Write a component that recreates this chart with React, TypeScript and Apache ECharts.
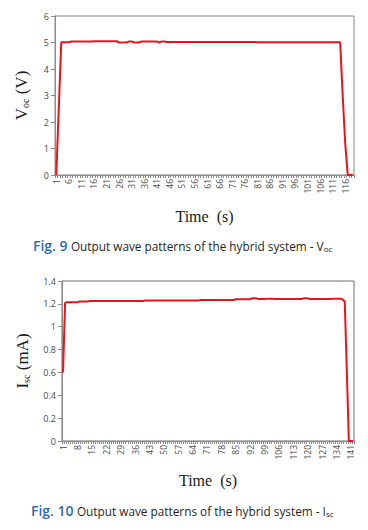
import React, { useEffect, useRef } from "react";
import * as echarts from "echarts";

// Fig. 9 – Voc (V), 119 one-second samples
const vocValues = [
  0, 2.5, 5.01, 5.01, 5.01, 5.01, 5.04, 5.04, 5.04, 5.04,
  5.04, 5.04, 5.04, 5.04, 5.04, 5.05, 5.05, 5.05, 5.05, 5.05,
  5.05, 5.05, 5.05, 5.05, 5.05, 5.0, 5.0, 5.0, 5.0, 5.04,
  5.04, 5.0, 5.0, 5.0, 5.04, 5.04, 5.04, 5.04, 5.04, 5.04,
  5.04, 5.0, 5.04, 5.04, 5.02, 5.02, 5.02, 5.02, 5.02, 5.02,
  5.02, 5.02, 5.02, 5.02, 5.02, 5.02, 5.02, 5.02, 5.02, 5.02,
  5.02, 5.02, 5.02, 5.02, 5.02, 5.02, 5.02, 5.02, 5.02, 5.02,
  5.02, 5.02, 5.02, 5.02, 5.02, 5.02, 5.02, 5.02, 5.02, 5.02,
  5.01, 5.01, 5.01, 5.01, 5.01, 5.01, 5.01, 5.01, 5.01, 5.01,
  5.01, 5.01, 5.01, 5.01, 5.01, 5.01, 5.01, 5.01, 5.01, 5.01,
  5.01, 5.01, 5.01, 5.01, 5.01, 5.01, 5.01, 5.01, 5.01, 5.01,
  5.01, 5.01, 5.01, 5.01, 3.0, 1.2, 0, 0, 0,
];

// Fig. 10 – Isc (mA), 142 one-second samples
const iscValues = [
  0.6, 1.21, 1.215, 1.215, 1.215, 1.215, 1.215, 1.215, 1.22, 1.22,
  1.22, 1.22, 1.22, 1.225, 1.225, 1.225, 1.225, 1.225, 1.225, 1.225,
  1.225, 1.225, 1.225, 1.225, 1.225, 1.225, 1.225, 1.225, 1.225, 1.225,
  1.225, 1.225, 1.225, 1.225, 1.225, 1.225, 1.225, 1.225, 1.225, 1.225,
  1.23, 1.23, 1.23, 1.23, 1.23, 1.23, 1.23, 1.23, 1.23, 1.23,
  1.23, 1.23, 1.23, 1.23, 1.23, 1.23, 1.23, 1.23, 1.23, 1.23,
  1.23, 1.23, 1.23, 1.23, 1.23, 1.23, 1.23, 1.234, 1.234, 1.234,
  1.234, 1.234, 1.234, 1.234, 1.234, 1.234, 1.234, 1.234, 1.234, 1.234,
  1.234, 1.234, 1.234, 1.234, 1.24, 1.24, 1.24, 1.24, 1.24, 1.24,
  1.24, 1.24, 1.248, 1.248, 1.248, 1.242, 1.242, 1.242, 1.242, 1.245,
  1.245, 1.245, 1.245, 1.242, 1.242, 1.242, 1.242, 1.242, 1.242, 1.242,
  1.242, 1.242, 1.242, 1.242, 1.242, 1.242, 1.242, 1.248, 1.248, 1.248,
  1.242, 1.242, 1.242, 1.242, 1.242, 1.242, 1.242, 1.242, 1.242, 1.242,
  1.242, 1.245, 1.245, 1.245, 1.245, 1.245, 1.238, 1.22, 0.62, 0,
  0, 0,
];

const vocTime = vocValues.map((_, i) => String(i + 1));
const iscTime = iscValues.map((_, i) => String(i + 1));

const vocTicks = { min: 0, max: 6, interval: 1 };
const iscTicks = { min: 0, max: 1.4, interval: 0.2 };

const captionVoc = { fig: "Fig. 9", text: "Output wave patterns of the hybrid system - V", sub: "oc" };
const captionIsc = { fig: "Fig. 10", text: "Output wave patterns of the hybrid system - I", sub: "sc" };

const RED = "#E8141B";
const AXIS_GRAY = "#8c8c8c";
const LABEL_GRAY = "#4a4a4a";
const SERIF = "'Liberation Serif', 'DejaVu Serif', serif";
const SANS = "'Open Sans', 'Noto Sans', sans-serif";

function xAxisFor(gridIndex: number, data: string[], labelInterval: number, nameGap: number) {
  return {
    type: "category",
    gridIndex,
    data,
    boundaryGap: true,
    name: "Time  (s)",
    nameLocation: "middle",
    nameGap,
    nameTextStyle: { fontFamily: SERIF, fontSize: 16, color: "#1a1a1a" },
    axisLine: { show: true, lineStyle: { color: AXIS_GRAY, width: 1 } },
    axisTick: { show: true, interval: 0, length: 3, lineStyle: { color: AXIS_GRAY } },
    axisLabel: {
      interval: labelInterval,
      rotate: 90,
      fontSize: 8.5,
      color: LABEL_GRAY,
      fontFamily: SANS,
      margin: 4,
    },
    splitLine: { show: false },
  };
}

function yAxisFor(gridIndex: number, ticks: any, main: string, sub: string, unit: string, nameGap: number) {
  return {
    type: "value",
    gridIndex,
    min: ticks.min,
    max: ticks.max,
    interval: ticks.interval,
    name: `{m|${main}}{s|${sub}}{m| ${unit}}`,
    nameLocation: "middle",
    nameRotate: 90,
    nameGap,
    nameTextStyle: {
      rich: {
        m: { fontFamily: SERIF, fontSize: 17, color: "#1a1a1a", lineHeight: 19, verticalAlign: "bottom" },
        s: { fontFamily: SERIF, fontSize: 10, color: "#1a1a1a", lineHeight: 10, verticalAlign: "bottom" },
      },
    },
    axisLine: { show: true, lineStyle: { color: AXIS_GRAY, width: 1 } },
    axisTick: { show: true, length: 4, lineStyle: { color: AXIS_GRAY } },
    axisLabel: { fontSize: 9, color: LABEL_GRAY, fontFamily: SANS, margin: 6 },
    splitLine: { show: false },
  };
}

function caption(c: any, left: number, top: number) {
  return {
    type: "text",
    left,
    top,
    style: {
      text: `{f|${c.fig}} {t|${c.text}}{s|${c.sub}}`,
      rich: {
        f: { fontFamily: SANS, fontSize: 14, fontWeight: 600, fill: "#2E6DB4", lineHeight: 18, verticalAlign: "bottom" },
        t: { fontFamily: SANS, fontSize: 11.8, fill: "#1f1f1f", lineHeight: 16, verticalAlign: "bottom" },
        s: { fontFamily: SANS, fontSize: 8, fill: "#1f1f1f", lineHeight: 9, verticalAlign: "bottom" },
      },
    },
  };
}

export default function App() {
  const ref = useRef<HTMLDivElement>(null);
  useEffect(() => {
    if (!ref.current) return;
    const chart = echarts.init(ref.current, undefined, { renderer: "svg" });
    chart.setOption({
      animation: false,
      backgroundColor: "#ffffff",
      grid: [
        { left: 55, top: 16, width: 299, height: 159, show: true, borderColor: AXIS_GRAY, borderWidth: 1 },
        { left: 62, top: 281, width: 292, height: 160, show: true, borderColor: "#6e6e6e", borderWidth: 1 },
      ],
      xAxis: [xAxisFor(0, vocTime, 4, 33), xAxisFor(1, iscTime, 6, 31)],
      yAxis: [
        yAxisFor(0, vocTicks, "V", "oc", "(V)", 25),
        yAxisFor(1, iscTicks, "I", "sc", "(mA)", 31),
      ],
      series: [
        {
          type: "line",
          xAxisIndex: 0,
          yAxisIndex: 0,
          data: vocValues,
          showSymbol: false,
          symbol: "none",
          lineStyle: { color: RED, width: 2 },
        },
        {
          type: "line",
          xAxisIndex: 1,
          yAxisIndex: 1,
          data: iscValues,
          showSymbol: false,
          symbol: "none",
          lineStyle: { color: RED, width: 2 },
        },
      ],
      graphic: [caption(captionVoc, 33, 237), caption(captionIsc, 31, 502)],
    });
    return () => chart.dispose();
  }, []);
  return (
    <div
      ref={ref}
      style={{ position: "fixed", left: 0, top: 0, width: 368, height: 530, background: "#fff" }}
    />
  );
}
